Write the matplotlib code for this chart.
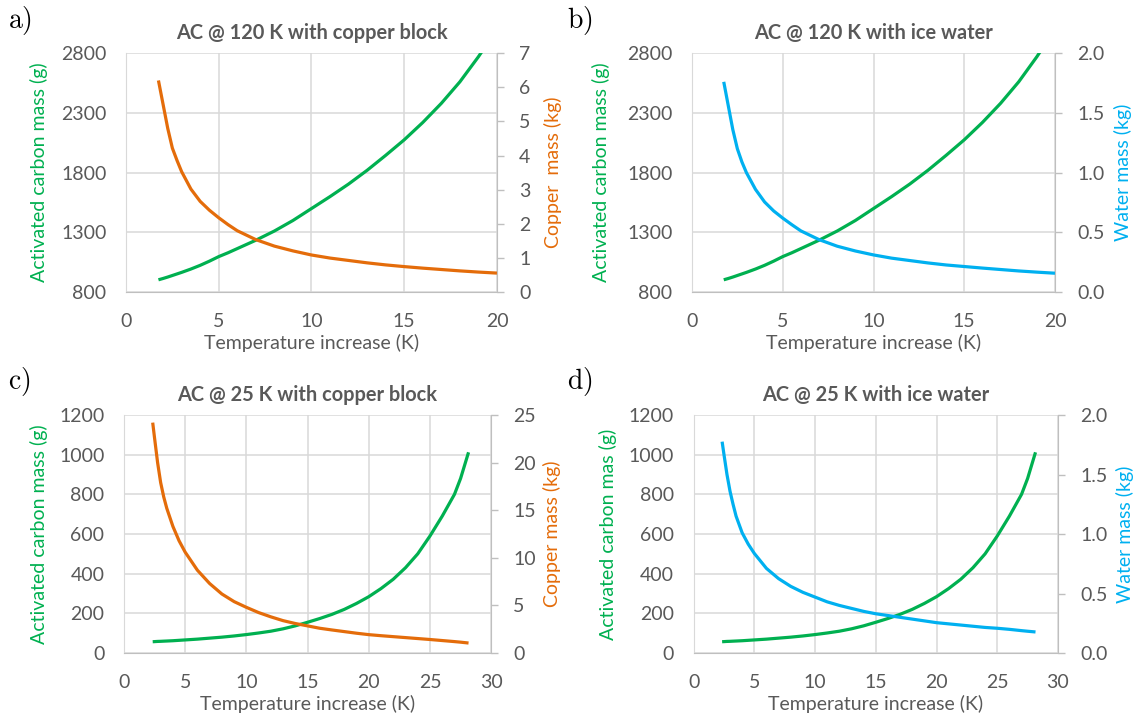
import numpy as np
import matplotlib
matplotlib.use("Agg")
import matplotlib.pyplot as plt

plt.rcParams["font.family"] = ["Lato", "DejaVu Sans"]
plt.rcParams["mathtext.fontset"] = "cm"

# AC @ 120 K (panels a, b)
t120 = [1.75, 2.0, 2.25, 2.5, 2.75, 3.0, 3.5, 4, 4.5, 5, 5.5, 6, 7, 8, 9, 10,
        11, 12, 13, 14, 15, 16, 17, 18, 19, 20]
ac120 = [904, 915, 927, 940, 953, 966, 994, 1025, 1060, 1098, 1130, 1165, 1235, 1312, 1400, 1500,
         1600, 1705, 1820, 1945, 2075, 2220, 2380, 2560, 2770, 3000]
cu120 = [6.2, 5.5, 4.8, 4.22, 3.86, 3.53, 3.02, 2.66, 2.40, 2.18, 1.98, 1.80, 1.54, 1.35, 1.21, 1.09,
         1.00, 0.93, 0.86, 0.80, 0.75, 0.705, 0.665, 0.625, 0.59, 0.56]
wat120 = [1.76, 1.56, 1.36, 1.20, 1.09, 1.00, 0.86, 0.755, 0.68, 0.62, 0.565, 0.513, 0.44, 0.385, 0.345, 0.312,
          0.285, 0.265, 0.245, 0.228, 0.215, 0.202, 0.19, 0.178, 0.168, 0.159]

# AC @ 25 K (panels c, d)
t25 = [2.35, 2.5, 2.75, 3.0, 3.25, 3.5, 4, 4.5, 5, 6, 7, 8, 9, 10, 11, 12, 13, 14, 15,
       16, 17, 18, 19, 20, 21, 22, 23, 24, 25, 26, 27, 27.5, 28.15]
ac25 = [57, 57.5, 58.5, 59, 59.8, 60.5, 62, 64, 66, 70, 75, 80, 86, 93, 101, 110, 122, 137, 155,
        174, 195, 220, 250, 284, 325, 372, 430, 500, 590, 690, 800, 880, 1012]
cu25 = [24.2, 22.6, 20.0, 17.9, 16.4, 15.2, 13.3, 11.8, 10.6, 8.7, 7.3, 6.2, 5.4, 4.8, 4.25, 3.8, 3.4, 3.1, 2.85,
        2.6, 2.42, 2.25, 2.08, 1.93, 1.82, 1.72, 1.62, 1.52, 1.42, 1.31, 1.2, 1.14, 1.05]
wat25 = [1.776, 1.67, 1.50, 1.36, 1.25, 1.15, 1.01, 0.915, 0.837, 0.711, 0.625, 0.56, 0.51, 0.47, 0.43, 0.40, 0.375, 0.35, 0.33,
         0.315, 0.30, 0.285, 0.27, 0.255, 0.245, 0.235, 0.225, 0.215, 0.208, 0.199, 0.188, 0.183, 0.177]

GREEN = "#00B050"
ORANGE = "#E46C0A"
BLUE = "#00B0F0"
TXT = "#595959"
GRID = "#D9D9D9"
AXC = "#BFBFBF"

fig = plt.figure(figsize=(11.37, 7.18), dpi=100)

panels = [
    ("a)", "AC @ 120 K with copper block", [0.1108, 0.593, 0.3263, 0.333],
     t120, ac120, cu120, "Copper  mass (kg)", ORANGE, 20,
     (800, 2800, np.arange(800, 2801, 500)), (0, 7, np.arange(0, 8, 1), "%d"),
     "Activated carbon mass (g)", -0.210, 1.127),
    ("b)", "AC @ 120 K with ice water", [0.6086, 0.593, 0.3193, 0.333],
     t120, ac120, wat120, "Water mass (kg)", BLUE, 20,
     (800, 2800, np.arange(800, 2801, 500)), (0, 2, np.arange(0, 2.01, 0.5), "%.1f"),
     "Activated carbon mass (g)", -0.226, 1.163),
    ("c)", "AC @ 25 K with copper block", [0.109, 0.0905, 0.323, 0.3315],
     t25, ac25, cu25, "Copper mass (kg)", ORANGE, 30,
     (0, 1200, np.arange(0, 1201, 200)), (0, 25, np.arange(0, 26, 5), "%d"),
     "Activated carbon mass (g)", -0.207, 1.142),
    ("d)", "AC @ 25 K with ice water", [0.610, 0.0905, 0.3205, 0.3315],
     t25, ac25, wat25, "Water mass (kg)", BLUE, 30,
     (0, 1200, np.arange(0, 1201, 200)), (0, 2, np.arange(0, 2.01, 0.5), "%.1f"),
     "Activated carbon mas (g)", -0.209, 1.159),
]

for (letter, title, rect, t, ac, m, rlabel, rcol, xmax,
     llim, rlim, llabel, lx, rx) in panels:
    ax = fig.add_axes(rect)
    ax2 = ax.twinx()

    ax.plot(t, ac, color=GREEN, lw=2.3, solid_capstyle="butt", solid_joinstyle="round")
    ax2.plot(t, m, color=rcol, lw=2.3, solid_capstyle="butt", solid_joinstyle="round")

    ax.set_xlim(0, xmax)
    ax.set_xticks(np.arange(0, xmax + 1, 5))
    ax.set_ylim(llim[0], llim[1])
    ax.set_yticks(llim[2])
    ax2.set_ylim(rlim[0], rlim[1])
    ax2.set_yticks(rlim[2])
    ax2.set_yticklabels([rlim[3] % v for v in rlim[2]])

    ax.grid(True, color=GRID, lw=1.1)
    ax.set_axisbelow(True)
    for s in ["top", "right"]:
        ax.spines[s].set_visible(False)
    ax.spines["left"].set_color(GRID)
    ax.spines["bottom"].set_color(AXC)
    for s in ["top", "left", "bottom"]:
        ax2.spines[s].set_visible(False)
    ax2.spines["right"].set_color(AXC)

    ax.tick_params(axis="both", length=0, labelsize=14, labelcolor=TXT)
    ax.tick_params(axis="x", pad=15)
    ax.tick_params(axis="y", pad=14)
    ax2.tick_params(axis="y", length=5, width=1, color=AXC, labelsize=14,
                    labelcolor=TXT, pad=11)

    ax.set_xlabel("Temperature increase (K)", fontsize=14, color=TXT)
    ax.xaxis.set_label_coords(0.5, -0.176)
    ax.set_ylabel(llabel, fontsize=14, color=GREEN)
    ax.yaxis.set_label_coords(lx, 0.5)
    ax2.set_ylabel(rlabel, fontsize=14, color=rcol)
    ax2.yaxis.set_label_coords(rx, 0.5)

    ax.text(0.5, 1.085, title, transform=ax.transAxes, ha="center", va="center",
            fontsize=14.4, fontweight="bold", color=TXT)

    fx = 0.007 if letter in ("a)", "c)") else 0.4985
    fy = 0.972 if letter in ("a)", "b)") else 0.468
    fig.text(fx, fy, r"$\mathrm{%s}$" % letter, fontsize=20, va="center", ha="left")

fig.savefig("out.png", dpi=100)
